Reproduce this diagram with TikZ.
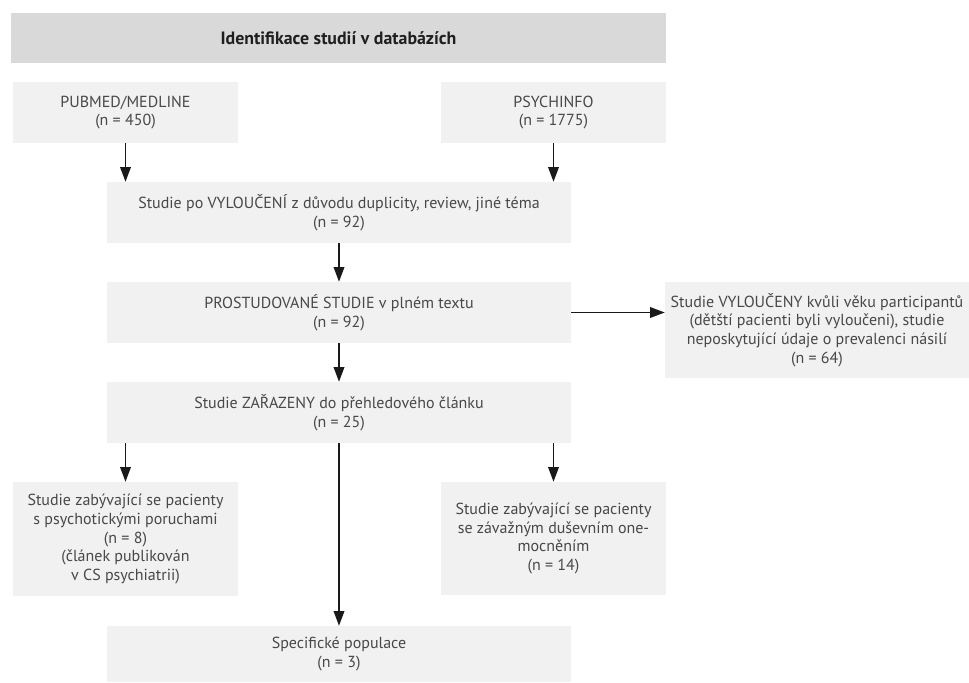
\documentclass[tikz,border=0pt]{standalone}
\usepackage{fontspec}
\setmainfont{PT Sans}
\usetikzlibrary{arrows.meta}
\definecolor{boxgray}{HTML}{F1F1F1}
\definecolor{headgray}{HTML}{D9D9D9}
\definecolor{txtgray}{HTML}{484848}
\definecolor{arrowc}{HTML}{1A1A1A}
\tikzset{
  box/.style={fill=boxgray, draw=none, inner sep=0pt, align=center, text=txtgray,
    font=\fontsize{12pt}{14pt}\selectfont},
  headbox/.style={fill=headgray, draw=none, inner sep=0pt, align=center, text=black!88,
    font=\fontsize{13.4pt}{14pt}\selectfont\bfseries},
  conn/.style={draw=arrowc, line width=1pt, -{Triangle[length=11pt,width=8pt]}}
}
\begin{document}
\begin{tikzpicture}[x=0.75pt,y=-0.75pt]
\useasboundingbox[fill=white] (0,0) rectangle (969,682);
% header
\node[headbox, minimum width=491.25pt, minimum height=37.5pt] (head) at (338.5,38) {Identifikace studií v databázích};
% sources
\node[box, minimum width=168.75pt, minimum height=45.75pt] (pub) at (125.5,112.5) {PUBMED/MEDLINE\\(n = 450)};
\node[box, minimum width=168.75pt, minimum height=45.75pt] (psy) at (553.5,112.5) {PSYCHINFO\\(n = 1775)};
% main column
\node[box, minimum width=348pt, minimum height=45.75pt] (a) at (339,212.5) {Studie po VYLOUČENÍ z důvodu duplicity, review, jiné téma\\(n = 92)};
\node[box, minimum width=348pt, minimum height=45.75pt] (b) at (339,312.5) {PROSTUDOVANÉ STUDIE v plném textu\\(n = 92)};
\node[box, minimum width=228pt, minimum height=72pt] (r) at (817,330) {Studie VYLOUČENY kvůli věku participantů\\(dětští pacienti byli vyloučeni), studie\\neposkytující údaje o prevalenci násilí\\(n = 64)};
\node[box, minimum width=348pt, minimum height=45.75pt] (c) at (339,412.5) {Studie ZAŘAZENY do přehledového článku\\(n = 25)};
\node[box, minimum width=168.75pt, minimum height=85.5pt] (l) at (125.5,539) {Studie zabývající se pacienty\\s psychotickými poruchami\\(n = 8)\\(článek publikován\\v CS psychiatrii)};
\node[box, minimum width=168.75pt, minimum height=84.75pt] (m) at (553.5,538.5) {Studie zabývající se pacienty\\se závažným duševním one-\\mocněním\\(n = 14)};
\node[box, minimum width=348pt, minimum height=42pt] (s) at (339,654) {Specifické populace\\(n = 3)};
% connectors
\draw[conn] (pub.south) -- (pub.south |- a.north);
\draw[conn] (psy.south) -- (psy.south |- a.north);
\draw[conn] (a.south) -- (b.north);
\draw[conn] (b.east) -- (r.west |- b.east);
\draw[conn] (b.south) -- (c.north);
\draw[conn] (c.south -| l.north) -- (l.north);
\draw[conn] (c.south -| m.north) -- (m.north);
\draw[conn] (c.south) -- (s.north);
\end{tikzpicture}
\end{document}
